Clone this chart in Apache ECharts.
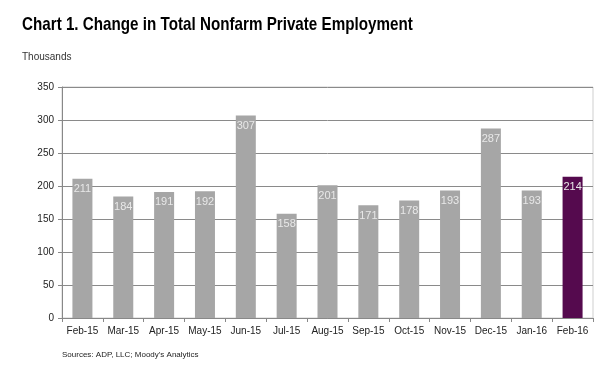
<!DOCTYPE html>
<html><head><meta charset="utf-8">
<script src="https://cdn.jsdelivr.net/npm/echarts@6/dist/echarts.min.js"></script>
<style>html,body{margin:0;padding:0;background:#fff}#c{width:601px;height:366px}</style>
</head><body><div id="c"></div>
<script>
const categories = ["Feb-15","Mar-15","Apr-15","May-15","Jun-15","Jul-15","Aug-15","Sep-15","Oct-15","Nov-15","Dec-15","Jan-16","Feb-16"];
const values = [211,184,191,192,307,158,201,171,178,193,287,193,214];
const yTicks = [0,50,100,150,200,250,300,350];
const title = "Chart 1. Change in Total Nonfarm Private Employment";
const unitLabel = "Thousands";
const source = "Sources: ADP, LLC; Moody's Analytics";

const chart = echarts.init(document.getElementById('c'));
chart.setOption({
  animation:false,
  graphic:[
    {type:'text',x:22,y:15,scaleX:0.8,style:{text:title,font:'bold 19px "Liberation Sans", Arial',fill:'#000'}}
  ],
  title:[
    {text:unitLabel,left:17,top:47,textStyle:{fontFamily:'Liberation Sans, Arial',fontSize:10,fontWeight:'normal',color:'#333'}},
    {text:source,left:57,top:346,textStyle:{fontFamily:'Liberation Sans, Arial',fontSize:8,fontWeight:'normal',color:'#222'}}
  ],
  grid:{left:62,right:8,top:87,bottom:48,show:true,borderColor:'#cfcfcf',borderWidth:1},
  xAxis:{type:'category',data:categories,boundaryGap:true,
    axisLine:{lineStyle:{color:'#888'}},axisTick:{show:true,lineStyle:{color:'#888'},length:4},
    axisLabel:{color:'#222',fontSize:10,fontFamily:'Liberation Sans, Arial',margin:8,interval:0}},
  yAxis:{type:'value',min:yTicks[0],max:yTicks[yTicks.length-1],interval:50,
    axisLine:{show:true,lineStyle:{color:'#888'}},axisTick:{show:true,length:4,lineStyle:{color:'#888'}},
    splitLine:{lineStyle:{color:'#8a8a8a'}},
    axisLabel:{color:'#222',fontSize:10,fontFamily:'Liberation Sans, Arial',margin:8}},
  series:[{type:'bar',barWidth:20,
    data:values.map((v,i)=>({value:v,itemStyle:{color:i===values.length-1?'#550a4e':'#a6a6a6'}})),
    label:{show:true,position:'insideTop',distance:5,color:'#e8e8e8',fontSize:11,fontFamily:'Liberation Sans, Arial'}}]
});
</script></body></html>
